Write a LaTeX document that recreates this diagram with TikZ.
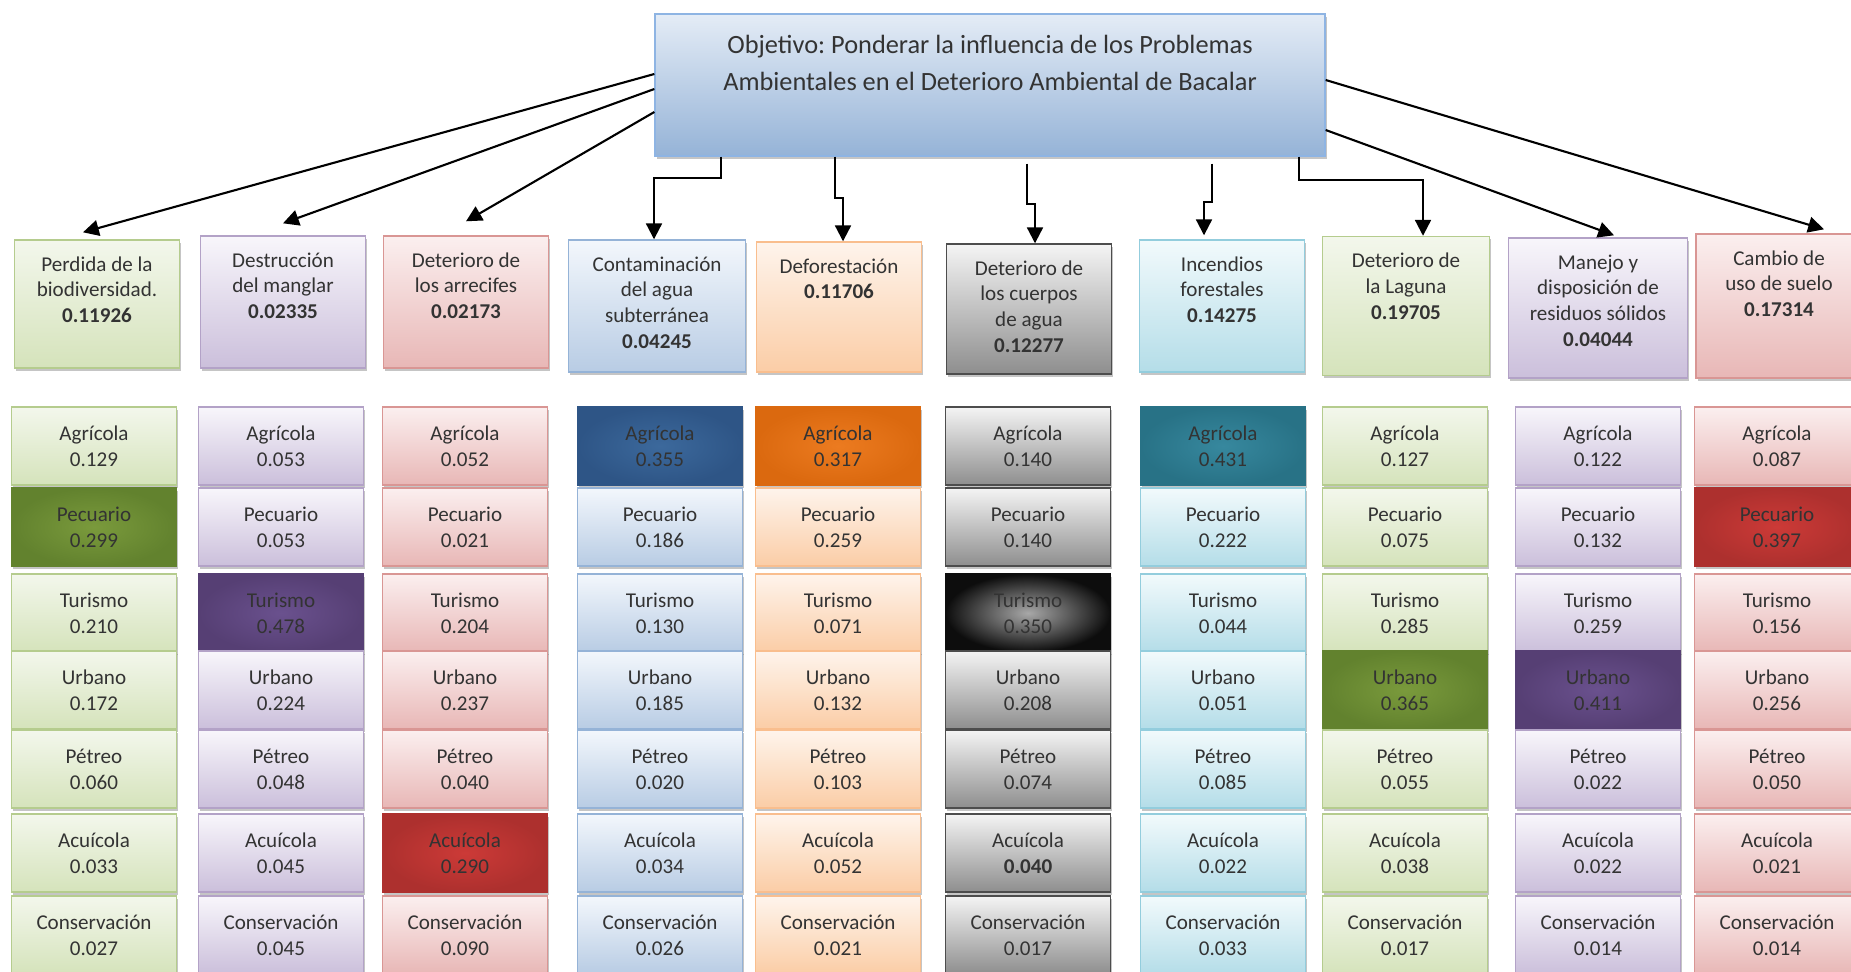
\documentclass[tikz,border=0pt]{standalone}
\usepackage{fontspec}
\setmainfont{Carlito}
\usepackage{xcolor}
\usepackage{tikz}
\usetikzlibrary{arrows.meta,calc,shadows}
\frenchspacing
\definecolor{textgray}{HTML}{333333}
\definecolor{objline}{HTML}{8EB4E3}
\definecolor{objtop}{HTML}{E4ECF6}
\definecolor{objbot}{HTML}{95B3D7}
\definecolor{grline}{HTML}{B5CC8E}
\definecolor{grtop}{HTML}{F3F7EC}
\definecolor{grbot}{HTML}{D5E3BB}
\definecolor{grhin}{HTML}{7A9A3C}
\definecolor{grhout}{HTML}{62822E}
\definecolor{puline}{HTML}{B3A2C7}
\definecolor{putop}{HTML}{F8F6FB}
\definecolor{pubot}{HTML}{CBBFDB}
\definecolor{puhin}{HTML}{6A518E}
\definecolor{puhout}{HTML}{563F74}
\definecolor{rdline}{HTML}{D99694}
\definecolor{rdtop}{HTML}{FBEFEF}
\definecolor{rdbot}{HTML}{E8B7B6}
\definecolor{rdhin}{HTML}{CC3A37}
\definecolor{rdhout}{HTML}{AD302E}
\definecolor{blline}{HTML}{95B3D7}
\definecolor{bltop}{HTML}{F3F7FC}
\definecolor{blbot}{HTML}{B8CCE4}
\definecolor{blhin}{HTML}{3C699C}
\definecolor{blhout}{HTML}{2E5586}
\definecolor{orline}{HTML}{F9BE8E}
\definecolor{ortop}{HTML}{FEF4EC}
\definecolor{orbot}{HTML}{FBCDA6}
\definecolor{orhin}{HTML}{EC7B20}
\definecolor{orhout}{HTML}{DB690F}
\definecolor{gyline}{HTML}{4D4D4D}
\definecolor{gytop}{HTML}{F4F4F4}
\definecolor{gybot}{HTML}{8E8E8E}
\definecolor{gyhin}{HTML}{A8A8A8}
\definecolor{gyhout}{HTML}{0D0D0D}
\definecolor{aqline}{HTML}{93CDDD}
\definecolor{aqtop}{HTML}{F2FAFC}
\definecolor{aqbot}{HTML}{B4DDE8}
\definecolor{aqhin}{HTML}{37889E}
\definecolor{aqhout}{HTML}{287286}
\newcommand{\critname}[1]{\ifcase#1\or Agrícola\or Pecuario\or Turismo\or Urbano\or Pétreo\or Acuícola\or Conservación\fi}
\tikzset{
  linkarrow/.style={black, line width=1.2pt, -{Triangle[length=9pt,width=9pt]}},
  boxshadow/.style={drop shadow={shadow xshift=1pt, shadow yshift=-1.5pt, fill=black!45, opacity=0.5}},
  tint0/.style={top color=#1top, bottom color=#1bot},
  tint1/.style={inner color=#1hin, outer color=#1hout, draw=#1hout},
  objbox/.style={draw=objline, line width=0.8pt, top color=objtop, bottom color=objbot, boxshadow,
    minimum width=13.4cm, minimum height=2.84cm, inner sep=0pt, text=textgray,
    font=\fontsize{15}{21}\selectfont,
    execute at begin node={\begin{minipage}[c][2.84cm][t]{13.2cm}\centering\vspace*{12pt}},
    execute at end node={\end{minipage}}},
  headbox/.style 2 args={draw=#1line, line width=0.8pt, tint0=#1, boxshadow,
    minimum width=3.3cm, minimum height=#2cm, inner xsep=0.05cm, inner ysep=0pt, text=textgray,
    font=\fontsize{12}{14.6}\selectfont,
    execute at begin node={\begin{minipage}[c][#2cm][t]{3.2cm}\centering\vspace*{9.5pt}},
    execute at end node={\end{minipage}}},
  critbox/.style={draw=#1line, line width=0.8pt, boxshadow, minimum width=3.3cm, minimum height=1.56cm,
    inner sep=1pt, align=center, text=textgray, font=\fontsize{12}{14.8}\selectfont}
}
\begin{document}
\begin{tikzpicture}[x=0.02cm, y=-0.02cm]
  \useasboundingbox (0,0) rectangle (1851,972);
  \clip (0,0) rectangle (1851,972);
  \node[objbox] (obj) at (990,85) {Objetivo: Ponderar la influencia de los Problemas\\Ambientales en el Deterioro Ambiental de Bacalar};
  \node[headbox={gr}{2.56}] (p1) at (97,304) {Perdida de la\\biodiversidad.\\\textbf{0.11926}};
  \node[headbox={pu}{2.64}] (p2) at (283,302) {Destrucción\\del manglar\\\textbf{0.02335}};
  \node[headbox={rd}{2.64}] (p3) at (466,302) {Deterioro de\\los arrecifes\\\textbf{0.02173}};
  \node[headbox={bl}{2.64}, minimum width=3.54cm] (p4) at (657,306) {Contaminación\\del agua\\subterránea\\\textbf{0.04245}};
  \node[headbox={or}{2.6}] (p5) at (839,307) {Deforestación\\\textbf{0.11706}};
  \node[headbox={gy}{2.6}] (p6) at (1029,309) {Deterioro de\\los cuerpos\\de agua\\\textbf{0.12277}};
  \node[headbox={aq}{2.64}] (p7) at (1222,306) {Incendios\\forestales\\\textbf{0.14275}};
  \node[headbox={gr}{2.78}, minimum width=3.34cm] (p8) at (1406,306) {Deterioro de\\la Laguna\\\textbf{0.19705}};
  \node[headbox={pu}{2.8}, minimum width=3.58cm] (p9) at (1598,308) {Manejo y\\disposición de\\residuos sólidos\\\textbf{0.04044}};
  \node[headbox={rd}{2.88}, minimum width=3.32cm] (p10) at (1779,306) {Cambio de\\uso de suelo\\\textbf{0.17314}};
  \draw[linkarrow] ($(obj.west)+(0,-11)$) -- ($(p1.north)+(-14,-7)$);
  \draw[linkarrow] ($(obj.west)+(0,4)$) -- ($(p2.north)+(0,-12)$);
  \draw[linkarrow] ($(obj.west)+(0,27)$) -- ($(p3.north)+(0,-14)$);
  \draw[linkarrow] ($(obj.south)+(-269,0)$) -- ++(0,21) -| ($(p4.north)+(-3,0)$);
  \draw[linkarrow] ($(obj.south)+(-155,0)$) -- ++(0,41) -| ($(p5.north)+(4,0)$);
  \draw[linkarrow] ($(obj.south)+(37,7)$) -- ++(0,40) -| ($(p6.north)+(6,0)$);
  \draw[linkarrow] ($(obj.south)+(222,7)$) -- ++(0,38) -| ($(p7.north)+(-18,-4)$);
  \draw[linkarrow] ($(obj.south)+(309,0)$) -- ++(0,23) -| ($(p8.north)+(17,0)$);
  \draw[linkarrow] ($(obj.east)+(0,45)$) -- ($(p9.north)+(16,-2)$);
  \draw[linkarrow] ($(obj.east)+(0,-5)$) -- ($(p10.north)+(45,-4)$);
  \foreach \col/\cx/\pal/\hi/\vals in {
    1/94/gr/2/{0.129,0.299,0.210,0.172,0.060,0.033,0.027},
    2/281/pu/3/{0.053,0.053,0.478,0.224,0.048,0.045,0.045},
    3/465/rd/6/{0.052,0.021,0.204,0.237,0.040,0.290,0.090},
    4/660/bl/1/{0.355,0.186,0.130,0.185,0.020,0.034,0.026},
    5/838/or/1/{0.317,0.259,0.071,0.132,0.103,0.052,0.021},
    6/1028/gy/3/{0.140,0.140,0.350,0.208,0.074,\textbf{0.040},0.017},
    7/1223/aq/1/{0.431,0.222,0.044,0.051,0.085,0.022,0.033},
    8/1405/gr/4/{0.127,0.075,0.285,0.365,0.055,0.038,0.017},
    9/1598/pu/4/{0.122,0.132,0.259,0.411,0.022,0.022,0.014},
    10/1777/rd/2/{0.087,0.397,0.156,0.256,0.050,0.021,0.014}}{
    \foreach \val [count=\idx] in \vals {
      \pgfmathsetmacro\ry{{446,527,613,690,769,853,935}[\idx-1]}
      \pgfmathtruncatemacro\lvl{\idx==\hi}
      \node[critbox=\pal, tint\lvl=\pal] (c\col-\idx) at (\cx,\ry) {\critname{\idx}\\\val};
    }
  }
\end{tikzpicture}
\end{document}
